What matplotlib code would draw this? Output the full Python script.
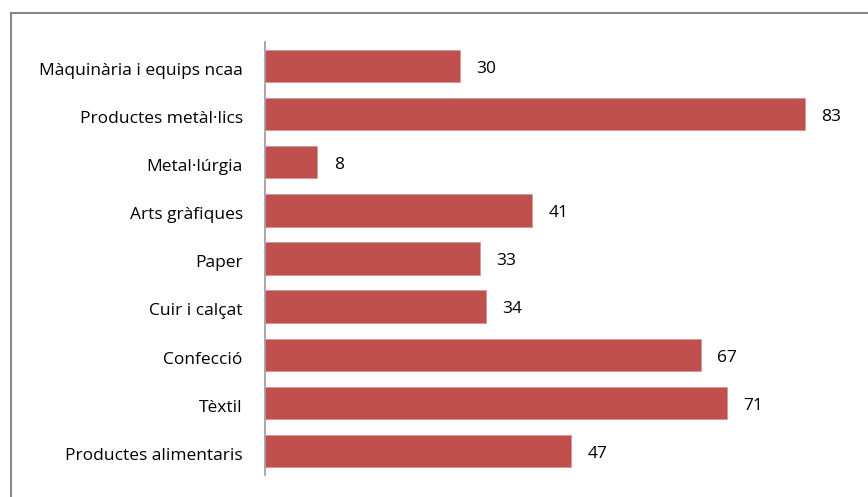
"""
Horizontal bar chart: industrial sectors
"""

import matplotlib
matplotlib.use("Agg")
from matplotlib import pyplot as plt
from matplotlib.lines import Line2D
from matplotlib.transforms import ScaledTranslation

# Data (top to bottom as in the picture)
sectors = [
    "Màquinària i equips ncaa",
    "Productes metàl·lics",
    "Metal·lúrgia",
    "Arts gràfiques",
    "Paper",
    "Cuir i calçat",
    "Confecció",
    "Tèxtil",
    "Productes alimentaris",
]
values = [30, 83, 8, 41, 33, 34, 67, 71, 47]

plt.rcParams["font.family"] = ["Open Sans", "DejaVu Sans"]

fig = plt.figure(figsize=(8.68, 4.97), dpi=100)
ax = fig.add_axes([265 / 868, 1 - 475 / 497, 585 / 868, 433 / 497])

# Plot bars, first category at the top
ypos = list(range(len(sectors)))[::-1]
ax.barh(ypos, values, height=0.67, color="#C0504D", edgecolor="#D99694", linewidth=0.6)

for y, v in zip(ypos, values):
    ax.annotate(str(v), (v, y), xytext=(12, -2), textcoords="offset points",
                va="center", ha="left", fontsize=12.5, color="black")

ax.set_yticks(ypos)
ax.set_yticklabels(sectors, fontsize=12.5)
ax.tick_params(axis="y", length=0, pad=16)
# nudge labels a little down so they sit on the bar centre
shift = ScaledTranslation(0, -2 / 72, fig.dpi_scale_trans)
for lbl in ax.get_yticklabels():
    lbl.set_transform(lbl.get_transform() + shift)
ax.set_xticks([])
ax.set_xlim(0, 90)
ax.set_ylim(-0.5, 8.5)

for s in ["top", "right", "bottom"]:
    ax.spines[s].set_visible(False)
ax.spines["left"].set_color("#9a9a9a")
ax.spines["left"].set_linewidth(1.2)

# Gray frame around the chart (cut at right and bottom)
fig.add_artist(Line2D([11 / 868, 1], [1 - 13 / 497, 1 - 13 / 497], transform=fig.transFigure,
                      color="#868686", linewidth=1.5))
fig.add_artist(Line2D([11 / 868, 11 / 868], [0, 1 - 13 / 497], transform=fig.transFigure,
                      color="#868686", linewidth=1.5))

plt.savefig("out.png", dpi=100)
